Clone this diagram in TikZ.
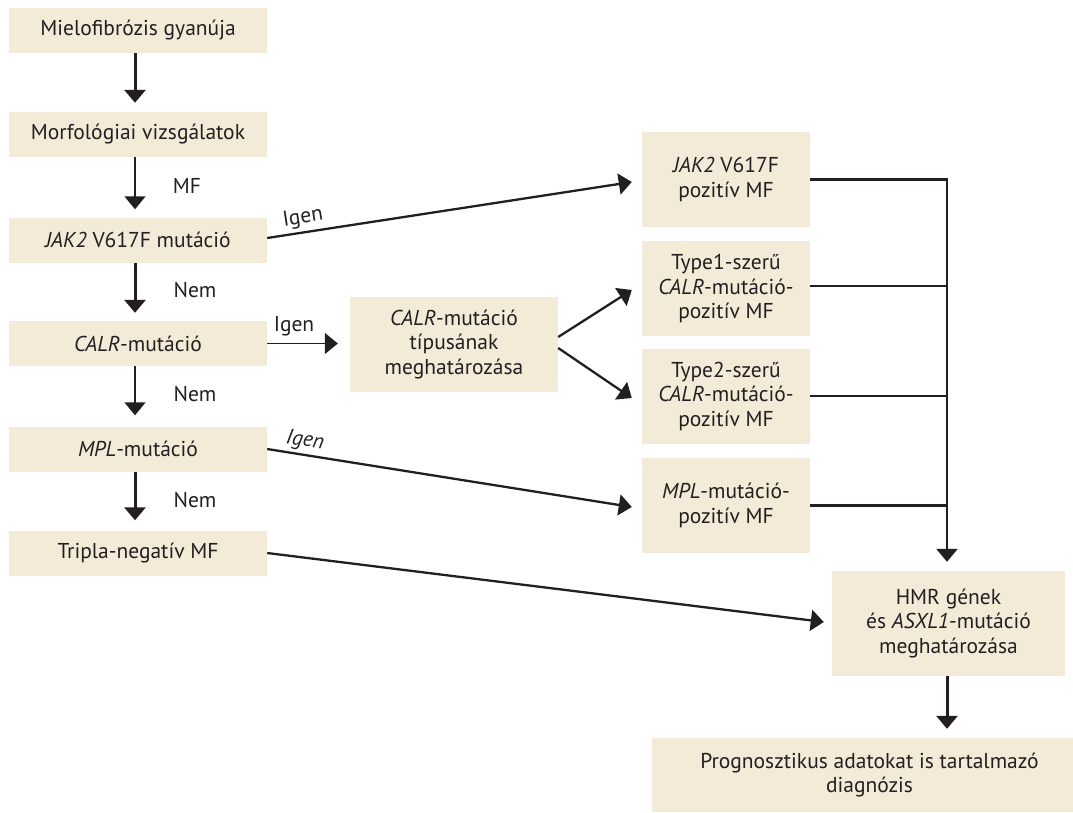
\documentclass[tikz,border=0pt]{standalone}
\usepackage{fontspec}
\setmainfont{PT Sans}
\usetikzlibrary{arrows.meta}
\definecolor{boxfill}{HTML}{F3EBD7}
\definecolor{ink}{HTML}{231F20}
\begin{document}
\begin{tikzpicture}[x=1pt,y=-1pt,
  box/.style={fill=boxfill, draw=none, inner sep=0pt, align=center, text=ink,
    font=\fontsize{21.5}{24.5}\selectfont},
  lbox/.style={box, minimum width=258pt, minimum height=45pt},
  rbox/.style={box, minimum width=168pt, minimum height=95pt},
  arr/.style={-{Triangle[width=21pt,length=13pt]}, draw=ink},
  thickl/.style={line width=3pt},
  medl/.style={line width=2.3pt},
  thinl/.style={line width=1.4pt},
  lbl/.style={text=ink, font=\fontsize{21.5}{24.5}\selectfont, inner sep=0pt}
]
\useasboundingbox (0,0) rectangle (1073,812);

% left column
\node[lbox] (b1) at (138,30.5) {Mielofibrózis gyanúja};
\node[lbox] (b2) at (138,134.5) {Morfológiai vizsgálatok};
\node[lbox] (b3) at (138,240) {\textit{JAK2} V617F mutáció};
\node[lbox] (b4) at (138,343.5) {\textit{CALR}-mutáció};
\node[lbox] (b5) at (138,449) {\textit{MPL}-mutáció};
\node[lbox] (b6) at (138,553) {Tripla-negatív MF};

% middle
\node[box, minimum width=208pt, minimum height=95pt] (ct) at (454,344.5)
  {\textit{CALR}-mutáció\\típusának\\meghatározása};

% right column
\node[rbox] (jp) at (726,179.5) {\textit{JAK2} V617F\\pozitív MF};
\node[rbox] (t1) at (726,288.5) {Type1-szerű\\\textit{CALR}-mutáció-\\pozitív MF};
\node[rbox] (t2) at (726,396) {Type2-szerű\\\textit{CALR}-mutáció-\\pozitív MF};
\node[rbox] (mp) at (726,505.5) {\textit{MPL}-mutáció-\\pozitív MF};

\node[box, minimum width=233pt, minimum height=105pt] (hmr) at (948.5,623.5)
  {HMR gének\\és \textit{ASXL1}-mutáció\\meghatározása};
\node[box, minimum width=421pt, minimum height=74pt] (pr) at (862.5,775)
  {\hspace*{14pt}Prognosztikus adatokat is tartalmazó\\\hspace*{14pt}diagnózis};

% vertical arrows left
\draw[arr,thickl,shorten >=9pt] ([xshift=-3pt]b1.south) -- ([xshift=-3pt]b2.north);
\draw[arr,thinl,shorten >=8pt] ([xshift=-3pt]b2.south) -- ([xshift=-3pt]b3.north);
\draw[arr,thickl,shorten >=8pt] ([xshift=-3pt]b3.south) -- ([xshift=-3pt]b4.north);
\draw[arr,thinl,shorten >=11pt] ([xshift=-3pt]b4.south) -- ([xshift=-3pt]b5.north);
\draw[arr,thickl,shorten >=10pt] ([xshift=-3pt]b5.south) -- ([xshift=-3pt]b6.north);

\node[lbl] (lmf) at (187,186) {MF};
\node[lbl] (ln1) at (195,290) {Nem};
\node[lbl] (ln2) at (195,394) {Nem};
\node[lbl] (ln3) at (195,500) {Nem};

% Igen branches
\draw[arr,medl] ([yshift=2pt]b3.east) -- ([shift={(-10pt,-2.5pt)}]jp.west);
\node[lbl, rotate=8.7] (ig1) at (303,218) {Igen};

\draw[arr,thinl,shorten >=12pt] (b4.east) -- (b4.east -| ct.west);
\node[lbl] (ig2) at (294,326) {Igen};

\draw[arr,medl] ([yshift=7.5pt]ct.east) -- ([shift={(-10pt,-1.5pt)}]t1.west);
\draw[arr,medl] ([yshift=-3.5pt]ct.east) -- ([shift={(-10pt,-2pt)}]t2.west);

\draw[arr,medl] (b5.east) -- ([shift={(-10pt,-1.5pt)}]mp.west);
\node[lbl, rotate=-9] (ig3) at (305,441) {\textit{Igen}};

\draw[arr,medl] (b6.east) -- ([shift={(-8pt,1.5pt)}]hmr.west);

% right collector
\coordinate (cx) at (947,179);
\draw[medl, draw=ink] (jp.east) -- (jp.east -| cx);
\draw[medl, draw=ink] ([yshift=2.5pt]t1.east) -- ([yshift=2.5pt]t1.east -| cx);
\draw[medl, draw=ink] (t2.east) -- (t2.east -| cx);
\draw[medl, draw=ink] (mp.east) -- (mp.east -| cx);
\draw[arr,line width=2.6pt,shorten >=9pt] ([yshift=1.2pt]cx) -- (cx |- hmr.north);

\draw[arr,thickl,shorten >=9pt] ([xshift=-1.5pt]hmr.south) -- ([xshift=-1.5pt]hmr.south |- pr.north);
\end{tikzpicture}
\end{document}
